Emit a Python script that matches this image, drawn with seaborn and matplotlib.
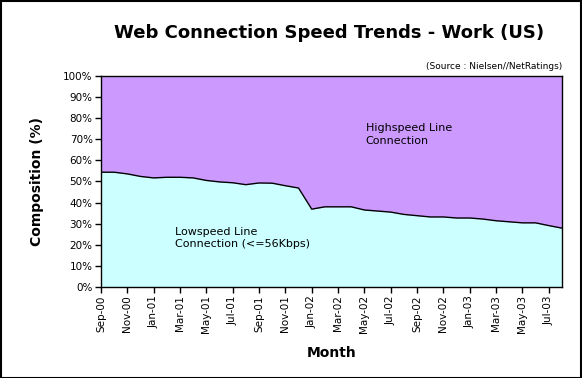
import numpy as np
import pandas as pd
import seaborn as sns
import matplotlib.pyplot as plt
from matplotlib.ticker import PercentFormatter

months = pd.date_range("2000-09-01", "2003-08-01", freq="MS").strftime("%b-%y").tolist()
lowspeed = [54.4, 54.4, 53.6, 52.4, 51.7, 52.0, 52.0, 51.7, 50.5, 49.8, 49.4, 48.5,
            49.3, 49.2, 48.0, 46.9, 36.9, 38.0, 38.0, 38.0, 36.5, 36.0, 35.5, 34.4,
            33.8, 33.2, 33.2, 32.7, 32.7, 32.2, 31.4, 30.9, 30.4, 30.4, 29.1, 27.9]
highspeed = [100 - v for v in lowspeed]

df = pd.DataFrame({"month": months, "idx": np.arange(len(months)),
                   "Lowspeed": lowspeed, "Highspeed": highspeed})

sns.set_style("white")
plt.rcParams["font.family"] = ["DejaVu Sans"]
plt.rcParams.update({"text.color": "black", "axes.labelcolor": "black",
                     "xtick.color": "black", "ytick.color": "black"})

fig = plt.figure(figsize=(5.82, 3.78), dpi=100)
ax = fig.add_axes([0.1735, 0.2407, 0.7921, 0.5583])

ax.stackplot(df["idx"], df["Lowspeed"], df["Highspeed"],
             colors=["#CCFFFF", "#CC99FF"], linewidth=0)
sns.lineplot(data=df, x="idx", y="Lowspeed", ax=ax, color="black", lw=1)

ax.set_xlim(0, len(months) - 1)
ax.set_ylim(0, 100)
ax.set_yticks(np.arange(0, 101, 10))
ax.yaxis.set_major_formatter(PercentFormatter(decimals=0))
ax.set_xticks(df["idx"][::2])
ax.set_xticklabels(months[::2], rotation=90, fontsize=7.5)
ax.tick_params(axis="y", labelsize=7.5)
ax.tick_params(direction="out", length=4, width=1, color="black", left=True, bottom=True, pad=2)
for s in ax.spines.values():
    s.set_color("black")
    s.set_linewidth(1)

ax.set_xlabel("Month", fontsize=10, fontweight="bold", labelpad=9)
ax.set_ylabel("Composition (%)", fontsize=10, fontweight="bold", labelpad=14)

fig.text(0.565, 0.912, "Web Connection Speed Trends - Work (US)", fontsize=13,
         fontweight="bold", ha="center", va="center")
fig.text(0.966, 0.812, "(Source : Nielsen//NetRatings)", fontsize=6.5, ha="right", va="bottom")

ax.text(20.1, 77.5, "Highspeed Line\nConnection", fontsize=8, va="top", ha="left", linespacing=1.3)
ax.text(5.6, 28.5, "Lowspeed Line\nConnection (<=56Kbps)", fontsize=8, va="top", ha="left", linespacing=1.3)

fig.patches.append(plt.Rectangle((0.001, 0.001), 0.997, 0.996, transform=fig.transFigure,
                                 fill=False, edgecolor="black", lw=1.5))

fig.savefig("out.png", dpi=100)
